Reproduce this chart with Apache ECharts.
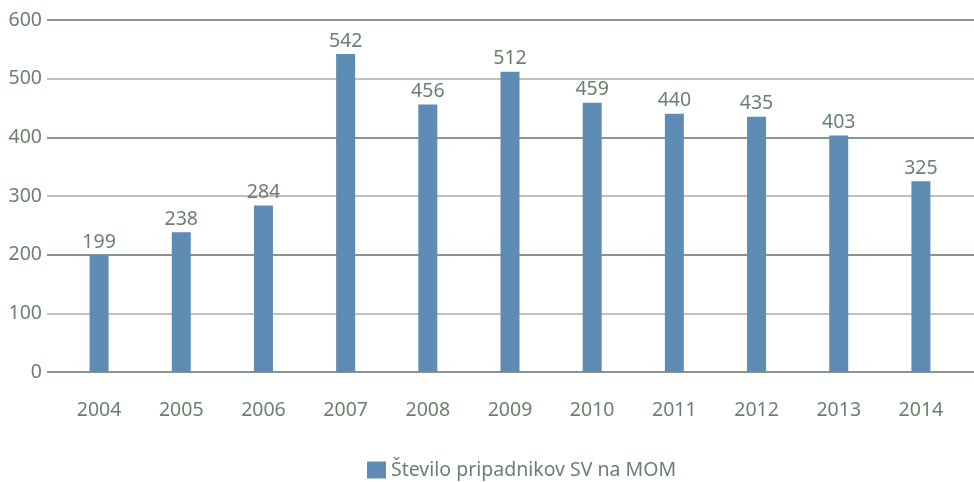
<!DOCTYPE html>
<html>
<head>
<meta charset="utf-8">
<script src="https://cdn.jsdelivr.net/npm/echarts@6/dist/echarts.min.js"></script>
<style>
  html, body { margin: 0; padding: 0; background: #fff; }
  #chart { width: 974px; height: 482px; }
</style>
</head>
<body>
<div id="chart"></div>
<script>
var years = ['2004', '2005', '2006', '2007', '2008', '2009', '2010', '2011', '2012', '2013', '2014'];
var members = [199, 238, 284, 542, 456, 512, 459, 440, 435, 403, 325];
var seriesName = 'Število pripadnikov SV na MOM';

var textColor = '#6c806f';
var fontFamily = '"Noto Sans", sans-serif';
var fontSize = 19.5;

var chart = echarts.init(document.getElementById('chart'));

var option = {
    animation: false,
    textStyle: { fontFamily: fontFamily },
    grid: [
        // gridlines + y labels
        { left: 47, right: 0, top: 20, bottom: 110 },
        // bars
        { left: 58, right: 12, top: 20, bottom: 110 }
    ],
    legend: {
        left: 367,
        top: 460,
        padding: 0,
        itemWidth: 19,
        itemHeight: 17,
        itemGap: 4,
        icon: 'rect',
        textStyle: { color: textColor, fontSize: fontSize, fontFamily: fontFamily, padding: [0, 0, 0, 0] },
        data: [seriesName]
    },
    xAxis: [
        { gridIndex: 0, type: 'value', show: false, min: 0, max: 1 },
        {
            gridIndex: 1,
            type: 'category',
            data: years,
            axisLine: { show: false },
            axisTick: { show: false },
            axisLabel: { color: textColor, fontSize: fontSize, margin: 28, fontFamily: fontFamily }
        }
    ],
    yAxis: [
        {
            gridIndex: 0,
            type: 'value',
            min: 0,
            max: 600,
            interval: 100,
            axisLine: { show: false },
            axisTick: { show: false },
            axisLabel: { color: textColor, fontSize: fontSize, margin: 5, fontFamily: fontFamily },
            splitLine: { lineStyle: { color: ['#5e7562', '#a8ada8'], width: 1.5 } }
        },
        {
            gridIndex: 1,
            type: 'value',
            min: 0,
            max: 600,
            interval: 100,
            show: false,
            splitLine: { show: false }
        }
    ],
    series: [
        {
            name: seriesName,
            type: 'bar',
            xAxisIndex: 1,
            yAxisIndex: 1,
            data: members,
            barWidth: 19,
            itemStyle: { color: '#5f8cb4' },
            label: {
                show: true,
                position: 'top',
                distance: 3,
                color: textColor,
                fontSize: fontSize,
                fontFamily: fontFamily
            }
        }
    ]
};

chart.setOption(option);
</script>
</body>
</html>
